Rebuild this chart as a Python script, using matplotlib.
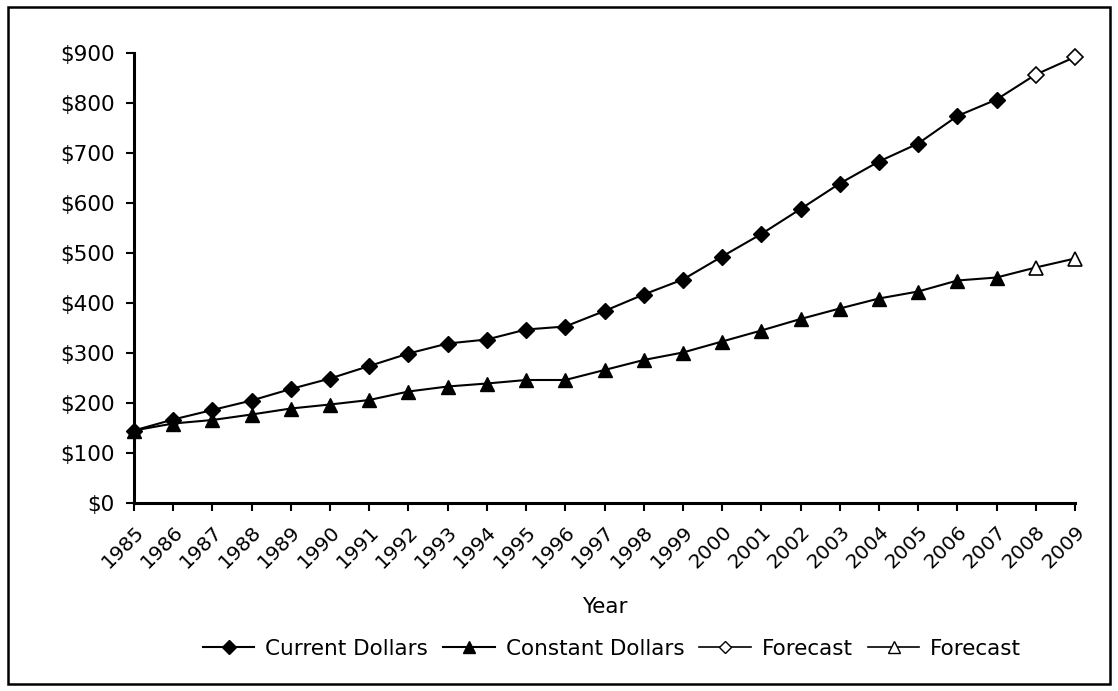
import matplotlib
matplotlib.use("Agg")
import matplotlib.pyplot as plt
from matplotlib.patches import Rectangle
from matplotlib.lines import Line2D

plt.rcParams['font.family'] = ['DejaVu Sans']

years = list(range(1985, 2010))
year_labels = [str(y) for y in years]
current_actual = [145, 167, 186, 205, 228, 249, 274, 299, 319, 327, 347, 353, 384,
                  417, 447, 493, 538, 588, 639, 683, 719, 774, 807]
current_forecast = [857, 892]
constant_actual = [145, 159, 166, 177, 189, 197, 206, 223, 233, 239, 246, 246, 266,
                   286, 301, 323, 345, 368, 389, 409, 423, 445, 451]
constant_forecast = [471, 489]
y_ticks = [0, 100, 200, 300, 400, 500, 600, 700, 800, 900]
y_tick_labels = ["$%d" % v for v in y_ticks]
legend_labels = ["Current Dollars", "Constant Dollars", "Forecast", "Forecast"]

W, H = 1118, 691
fig = plt.figure(figsize=(W / 100, H / 100), dpi=100)
ax = fig.add_axes([134 / W, 1 - 503 / H, (1075 - 134) / W, (503 - 53) / H])

n_act = len(current_actual)
x_act = years[:n_act]
x_fc = years[n_act:]

fs = 15.5
lw = 1.5
ax.plot(years, current_actual + current_forecast, color='black', lw=lw, zorder=2, clip_on=False)
ax.plot(years, constant_actual + constant_forecast, color='black', lw=lw, zorder=2, clip_on=False)
ax.plot(x_act, current_actual, ls='none', marker='D', ms=8, mfc='black', mec='black', zorder=3, clip_on=False)
ax.plot(x_act, constant_actual, ls='none', marker='^', ms=10.5, mfc='black', mec='black', zorder=3, clip_on=False)
ax.plot(x_fc, current_forecast, ls='none', marker='D', ms=8, mfc='white', mec='black', mew=1.2, zorder=3, clip_on=False)
ax.plot(x_fc, constant_forecast, ls='none', marker='^', ms=10.5, mfc='white', mec='black', mew=1.2, zorder=3, clip_on=False)

ax.set_xlim(1985, 2009)
ax.set_ylim(0, 900)
ax.set_xticks(years)
ax.set_xticklabels(year_labels, rotation=45, ha='right', va='top', rotation_mode='anchor', fontsize=14.5)
ax.set_yticks(y_ticks)
ax.set_yticklabels(y_tick_labels, fontsize=fs)
ax.tick_params(axis='both', direction='out', length=6, width=1.5, color='black')
ax.tick_params(axis='y', pad=8)
ax.tick_params(axis='x', pad=8)
for s in ['top', 'right']:
    ax.spines[s].set_visible(False)
for s in ['left', 'bottom']:
    ax.spines[s].set_linewidth(2.2)
ax.set_xlabel("Year", fontsize=fs, labelpad=18)
ax.patch.set_alpha(0)

handles = [
    Line2D([], [], color='black', lw=lw, marker='D', ms=7, mfc='black', mec='black'),
    Line2D([], [], color='black', lw=lw, marker='^', ms=9, mfc='black', mec='black'),
    Line2D([], [], color='black', lw=1.2, marker='D', ms=6.5, mfc='white', mec='black'),
    Line2D([], [], color='black', lw=1.2, marker='^', ms=8, mfc='white', mec='black'),
]
fig.legend(handles, legend_labels, loc='center', bbox_to_anchor=(612 / W, 1 - 649 / H),
           ncol=4, frameon=False, fontsize=fs, handlelength=2.4, handletextpad=0.5,
           columnspacing=0.7)

fig.patches.append(Rectangle((8 / W, 1 - 684 / H), (1110 - 8) / W, (684 - 7) / H,
                             transform=fig.transFigure, fill=False, edgecolor='black', lw=1.8))

fig.savefig("out.png", dpi=100, facecolor='white')
